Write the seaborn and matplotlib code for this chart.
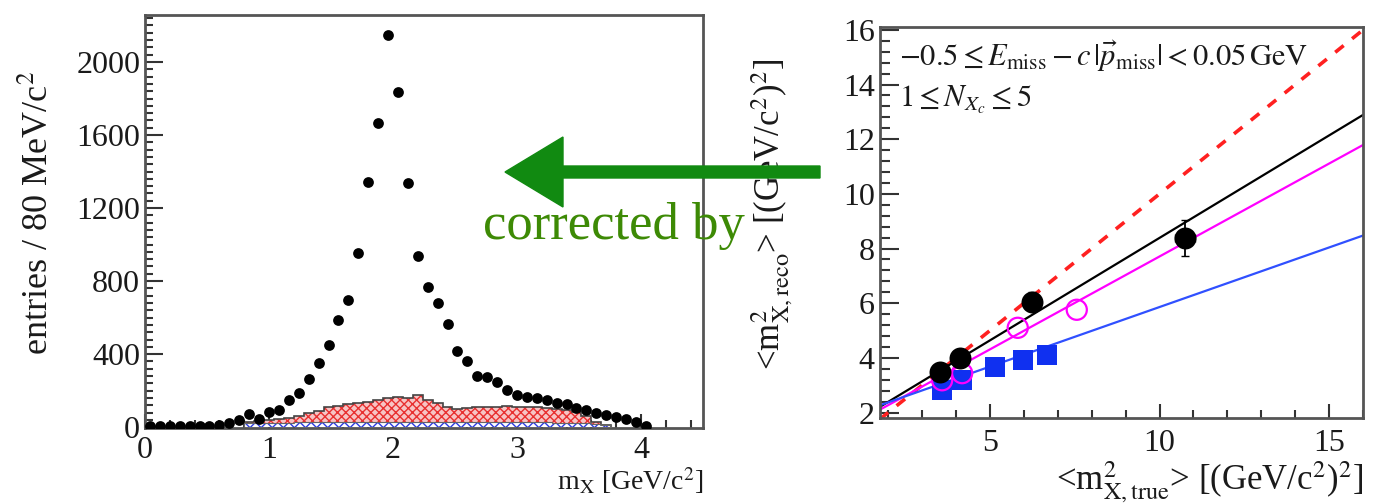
import numpy as np
import pandas as pd
import matplotlib
matplotlib.use("Agg")
import matplotlib.pyplot as plt
from matplotlib.patches import FancyArrow
import seaborn as sns

# ---------------- data ----------------
# mass spectrum, 80 MeV bins (bin centres in GeV/c^2)
bin_width = 0.08
mx_centres = [round(0.04 + bin_width * i, 2) for i in range(51)]
entries = [6, 5, 5, 6, 6, 7, 8, 12, 24, 37,
           70, 42, 85, 95, 148, 185, 266, 350, 450, 588,
           698, 955, 1341, 1666, 2149, 1836, 1337, 940, 767, 680,
           564, 415, 362, 280, 272, 247, 205, 178, 166, 157,
           146, 130, 126, 105, 96, 77, 68, 55, 43, 30, 8]

# background components (start at bin 0.84)
bkg_start = 0.80
bkg_blue = [20, 22, 24, 25, 25, 26, 26, 27, 27, 27,
            28, 28, 28, 28, 28, 28, 28, 28, 28, 27,
            27, 27, 27, 27, 27, 27, 27, 26, 26, 26,
            26, 25, 25, 24, 22, 18, 10]
bkg_total = [30, 35, 40, 42, 48, 62, 75, 90, 110, 118,
             125, 130, 140, 150, 160, 165, 158, 175, 150, 130,
             110, 100, 105, 108, 110, 112, 115, 112, 110, 108,
             105, 100, 95, 85, 60, 30, 12]

# calibration: <m2 reco> vs <m2 true>
data_true = [3.53, 4.12, 6.24, 10.76]
data_reco = [3.48, 3.99, 6.06, 8.38]
data_xerr = [0.10, 0.10, 0.15, 0.30]
data_yerr = [0.10, 0.12, 0.35, 0.65]
mc1_true = [3.59, 4.18, 5.82, 7.56]
mc1_reco = [3.18, 3.44, 5.10, 5.76]
mc2_true = [3.59, 4.18, 5.15, 5.97, 6.68]
mc2_reco = [2.81, 3.18, 3.66, 3.92, 4.10]

fit_names = ["identity", "data", "mc1", "mc2"]
fit_slopes = [1.0, 0.75, 0.68, 0.436]
fit_intercepts = [0.0, 0.89, 0.91, 1.50]

# ---------------- style ----------------
sns.set_theme(style="white")
plt.rcParams["font.family"] = ["Liberation Serif", "DejaVu Serif"]
plt.rcParams["mathtext.fontset"] = "stix"
plt.rcParams["axes.unicode_minus"] = True

fig = plt.figure(figsize=(13.81, 5.03), dpi=100)
ax1 = fig.add_axes([0.105, 0.149, 0.404, 0.821])
ax2 = fig.add_axes([0.637, 0.169, 0.350, 0.777])

spine_col = "#555555"
text_col = "#1a1a1a"
for ax in (ax1, ax2):
    for s in ax.spines.values():
        s.set_color(spine_col)
        s.set_linewidth(2.0)
    ax.tick_params(which="both", direction="in", colors=text_col,
                   labelsize=23, width=1.5, bottom=True, left=True,
                   top=False, right=False)
    ax.tick_params(which="both", color="#333333")

# ---------------- left: m_X spectrum ----------------
nb = len(bkg_total)
edges = np.round(bkg_start + bin_width * np.arange(nb + 1), 2)
ax1.stairs(bkg_total, edges, baseline=0, fill=True, facecolor="#f7c4c4",
           edgecolor="#e83030", hatch="xxxx", linewidth=0, zorder=2)
ax1.stairs(bkg_blue, edges, baseline=0, fill=True, facecolor="white",
           edgecolor="#2a3ae0", hatch="xxx", linewidth=0, zorder=3)
ax1.stairs(bkg_total, edges, baseline=0, color="#444444", linewidth=1.2, zorder=4)
ax1.stairs(bkg_blue, edges, baseline=0, color="#666666", linewidth=0.8, zorder=4)

spec = pd.DataFrame({"mx": mx_centres, "n": entries})
sns.scatterplot(data=spec, x="mx", y="n", ax=ax1, color="black", s=60,
                linewidth=0, zorder=5, legend=False)

ax1.set_xlim(0, 4.5)
ax1.set_ylim(-5, 2257)
ax1.set_xticks([0, 1, 2, 3, 4])
ax1.set_xticks(np.arange(0, 4.51, 0.2), minor=True)
ax1.set_yticks(np.arange(0, 2001, 400))
ax1.set_yticks(np.arange(0, 2257, 40), minor=True)
ax1.tick_params(axis="y", which="major", length=13)
ax1.tick_params(axis="y", which="minor", length=6)
ax1.tick_params(axis="x", which="major", length=10, pad=6)
ax1.tick_params(axis="x", which="minor", length=6)
ax1.set_xlabel(r"m$_{\rm X}$ [GeV/c$^2$]", fontsize=20, color=text_col)
ax1.xaxis.set_label_coords(1.0, -0.09)
ax1.xaxis.label.set_ha("right")
ax1.set_ylabel(r"entries / 80 MeV/c$^2$", fontsize=26, color=text_col)
ax1.yaxis.set_label_coords(-0.160, 0.52)

# ---------------- right: calibration ----------------
xs = np.linspace(1.75, 16.0, 200)
line_styles = {
    "identity": dict(color="#ff2020", linestyle=(0, (3, 3)), linewidth=2.6),
    "data": dict(color="black", linestyle="-", linewidth=1.6),
    "mc1": dict(color="#ff00ff", linestyle="-", linewidth=1.6),
    "mc2": dict(color="#3050ff", linestyle="-", linewidth=1.6),
}
for name, k, b in zip(fit_names, fit_slopes, fit_intercepts):
    sns.lineplot(x=xs, y=k * xs + b, ax=ax2, zorder=2, **line_styles[name])

sns.scatterplot(x=mc2_true, y=mc2_reco, ax=ax2, marker="s", s=190,
                color="#1030f0", linewidth=0, zorder=3)
ax2.scatter(mc1_true, mc1_reco, marker="o", s=210, facecolors="none",
            edgecolors="#ff00ff", linewidths=1.6, zorder=4)
ax2.errorbar(data_true, data_reco, xerr=data_xerr, yerr=data_yerr, fmt="none",
             ecolor="black", elinewidth=1.3, capsize=3, zorder=5)
sns.scatterplot(x=data_true, y=data_reco, ax=ax2, marker="o", s=250,
                color="black", linewidth=0, zorder=6)

ax2.set_xlim(1.75, 16.0)
ax2.set_ylim(1.8, 16.1)
ax2.set_xticks([5, 10, 15])
ax2.set_xticks(np.arange(2, 16.01, 1), minor=True)
ax2.set_yticks(np.arange(2, 16.01, 2))
ax2.set_yticks(np.arange(2, 16.01, 0.4), minor=True)
ax2.tick_params(axis="y", which="major", length=14)
ax2.tick_params(axis="y", which="minor", length=7)
ax2.tick_params(axis="x", which="major", length=10, pad=8)
ax2.tick_params(axis="x", which="minor", length=6)
ax2.set_xlabel(r"<m$^2_{\rm X,true}$> [(GeV/c$^2$)$^2$]", fontsize=25, color=text_col)
ax2.xaxis.set_label_coords(1.0, -0.105)
ax2.xaxis.label.set_ha("right")
ax2.set_ylabel(r"<m$^2_{\rm X,reco}$> [(GeV/c$^2$)$^2$]", fontsize=25, color=text_col)
ax2.yaxis.set_label_coords(-0.176, 0.52)

ax2.text(0.04, 0.925,
         r"$-0.5 \leq E_{\rm miss} - c\,|\vec{p}_{\rm miss}| < 0.05\,{\rm GeV}$",
         transform=ax2.transAxes, fontsize=22, color=text_col, va="center", ha="left")
ax2.text(0.04, 0.815, r"$1 \leq N_{X_c} \leq 5$",
         transform=ax2.transAxes, fontsize=22, color=text_col, va="center", ha="left")

# ---------------- annotation ----------------
arrow = FancyArrow(8.20, 3.31, -3.15, 0.0, width=0.12, head_width=0.70,
                   head_length=0.58, length_includes_head=True,
                   color="#118a11", transform=fig.dpi_scale_trans, zorder=10)
fig.add_artist(arrow)
fig.text(6.14 / 13.81, (503 - 226) / 503, "corrected by", fontsize=38,
         color="#3d8a05", ha="center", va="center",
         family=["Liberation Serif", "DejaVu Serif"])

fig.savefig("out.png", dpi=100)
